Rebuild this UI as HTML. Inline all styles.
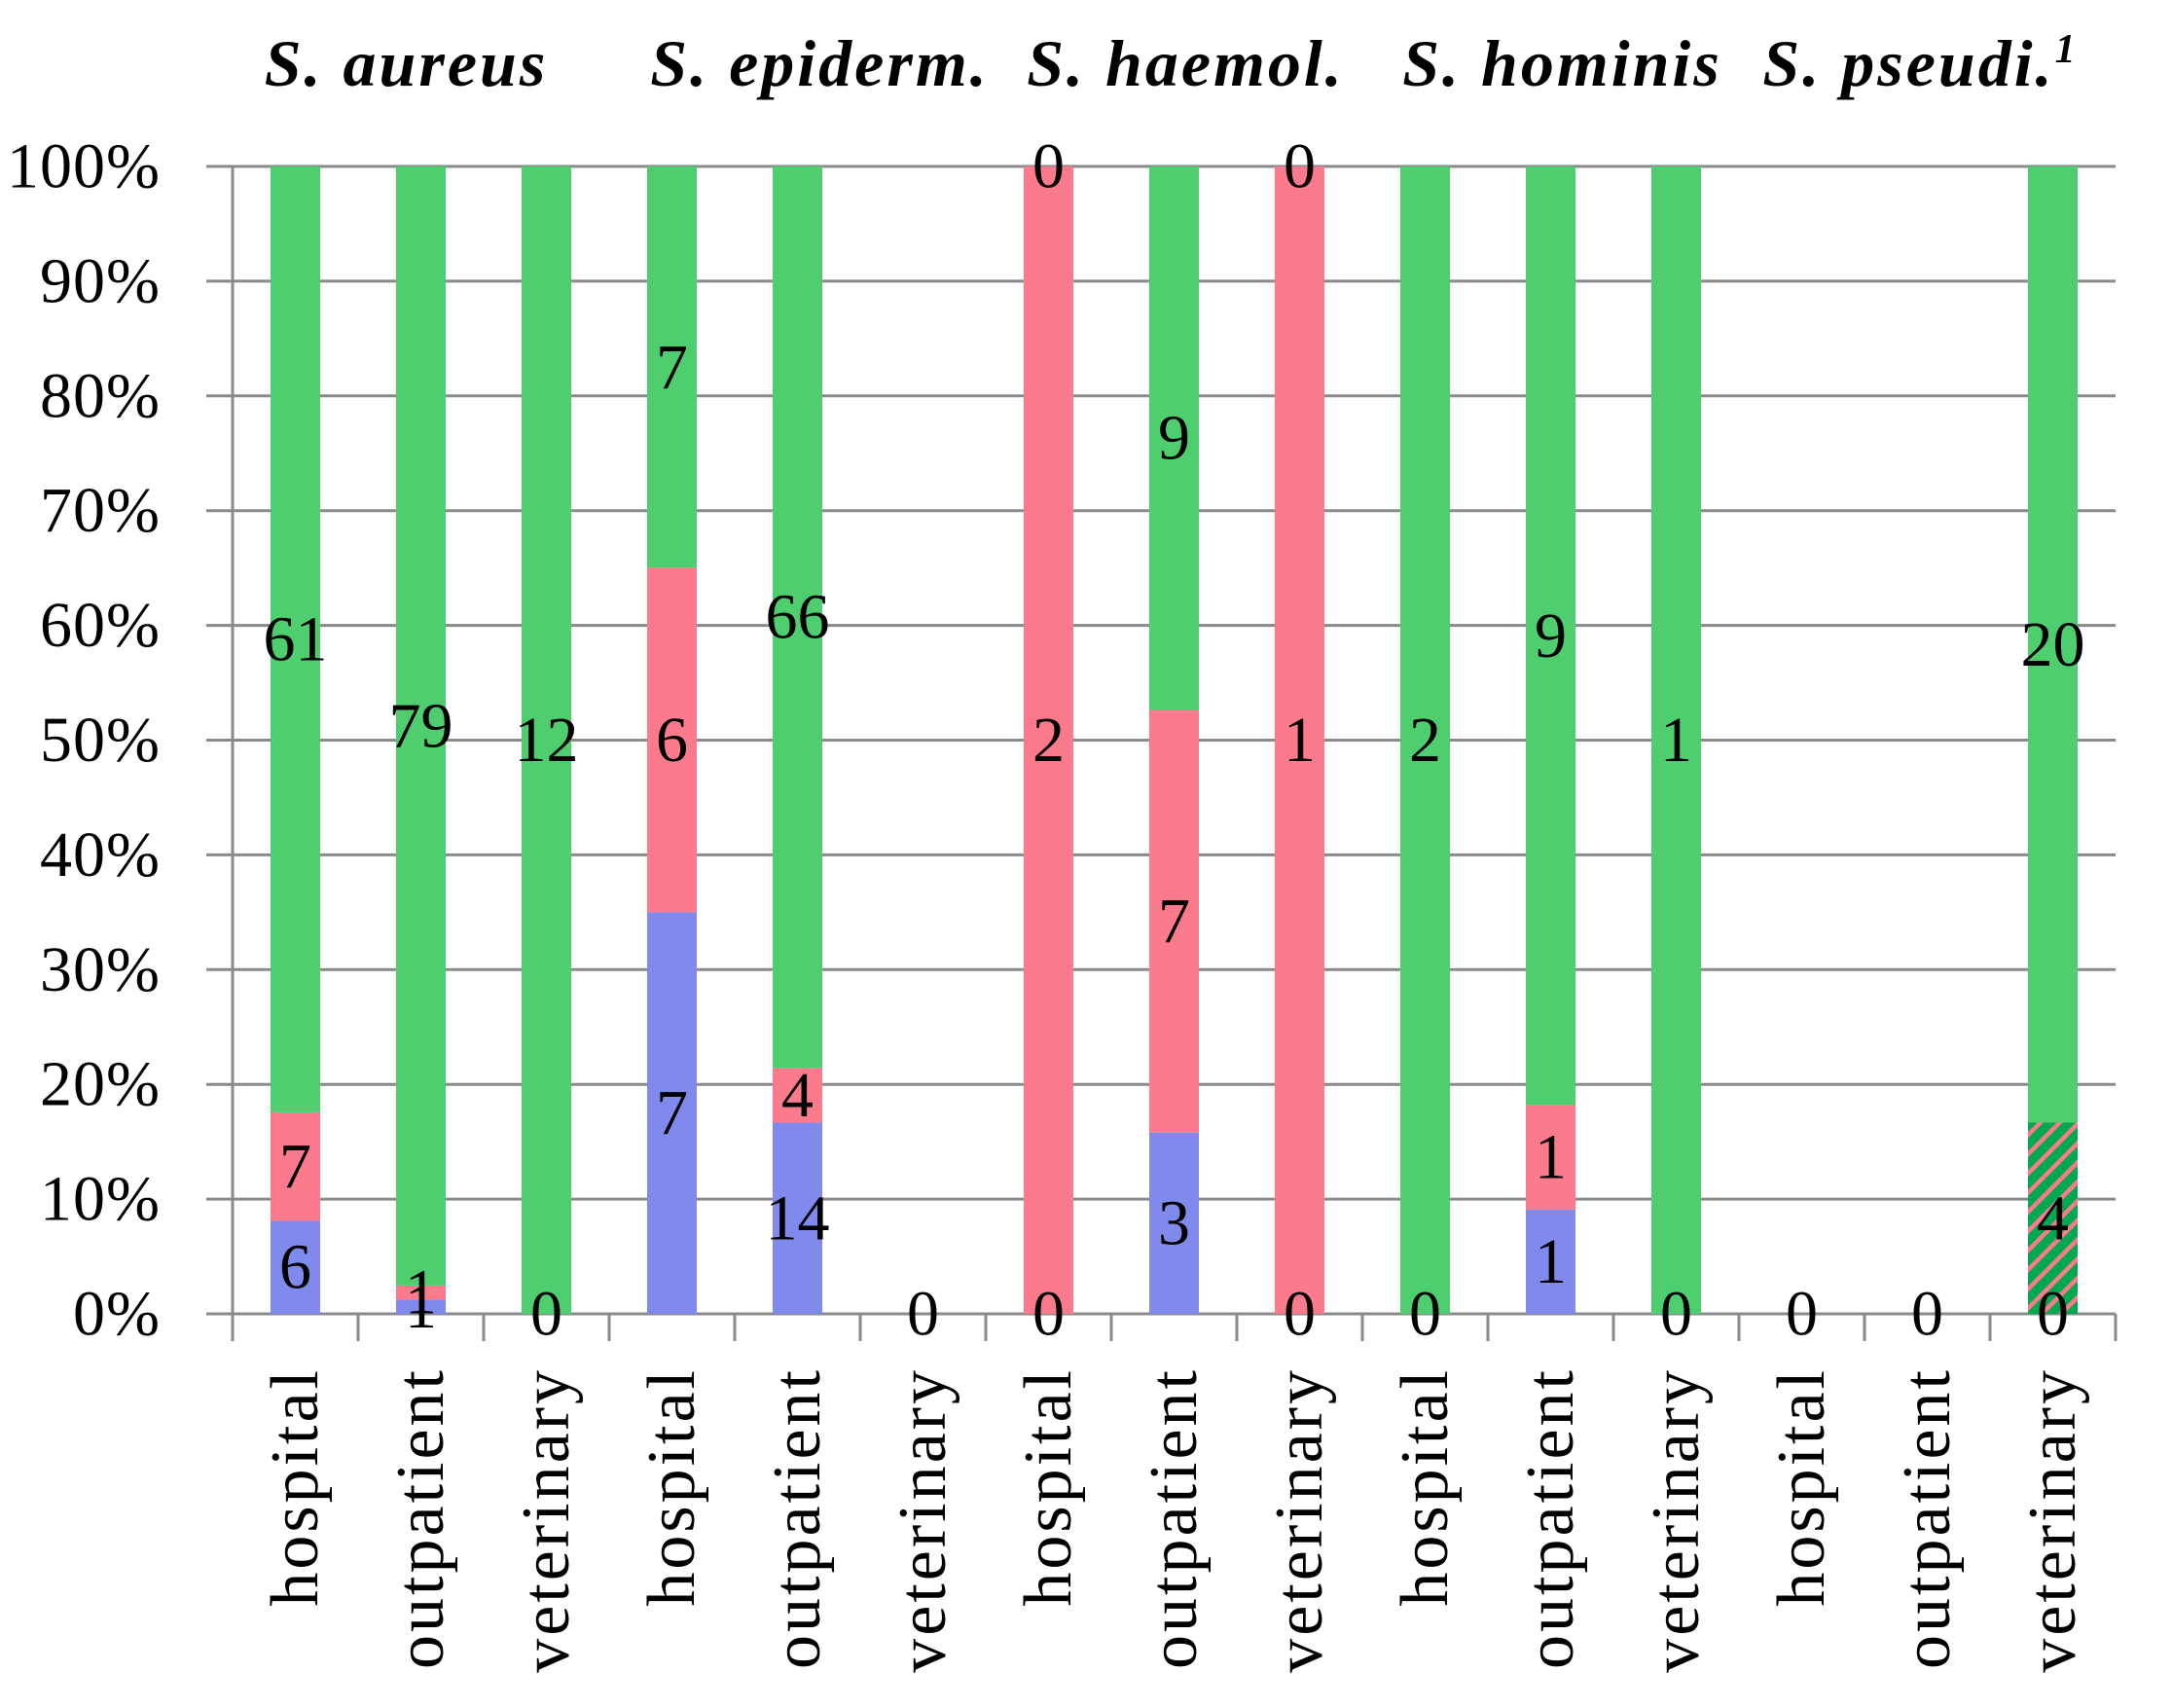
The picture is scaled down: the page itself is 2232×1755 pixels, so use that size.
<!DOCTYPE html>
<html><head><meta charset="utf-8"><style>
html,body{margin:0;padding:0;background:#fff;}
svg{display:block;font-family:"Liberation Serif",serif;}
</style></head><body>
<svg id="chart" width="2232" height="1755" viewBox="0 0 2232 1755" xmlns="http://www.w3.org/2000/svg">
<defs>
<pattern id="hatch" patternUnits="userSpaceOnUse" width="14" height="14" patternTransform="rotate(45)">
<rect width="14" height="14" fill="#00A84F"/><rect width="4.5" height="14" fill="#FB7A8C"/>
</pattern>
</defs>
</svg>
<script>
const categories = ["hospital","outpatient","veterinary","hospital","outpatient","veterinary","hospital","outpatient","veterinary","hospital","outpatient","veterinary","hospital","outpatient","veterinary"];
const groups = ["S. aureus","S. epiderm.","S. haemol.","S. hominis","S. pseudi."];
const blueVals  = [6,1,0,7,14,0,0,3,0,0,1,0,0,0,0];
const hatchVals = [null,null,null,null,null,null,null,null,null,null,null,null,null,null,4];
const redVals   = [7,1,null,6,4,null,2,7,1,null,1,null,null,null,null];
const greenVals = [61,79,12,7,66,null,0,9,0,2,9,1,null,null,20];
const yTicks = [0,10,20,30,40,50,60,70,80,90,100];

const svg = document.getElementById('chart');
const NS = 'http://www.w3.org/2000/svg';
const X0 = 239, X1 = 2174, Y0 = 1350, Y100 = 171;
const n = categories.length, bw = (X1 - X0) / n, barW = 51;
const titleShift = [-15, 23, 12, 12, -7];
const xC = i => X0 + bw * (i + 0.5);
const yP = p => Y0 - (Y0 - Y100) * p / 100;
function mk(tag, attrs, parent) {
  const e = document.createElementNS(NS, tag);
  for (const k in attrs) e.setAttribute(k, attrs[k]);
  (parent || svg).appendChild(e);
  return e;
}
yTicks.forEach(t => {
  const l = mk('line', {x1: 212, x2: X1, y1: yP(t), y2: yP(t), stroke: '#8a8a8a', 'stroke-width': 3});
  
  
  const tx = mk('text', {x: 165, y: yP(t), 'font-size': 66, 'text-anchor': 'end', 'dominant-baseline': 'central', fill: '#000', 'letter-spacing': 1});
  tx.textContent = t + '%';
  
  
});
const ya = mk('line', {x1: X0, x2: X0, y1: Y100, y2: Y0, stroke: '#8a8a8a', 'stroke-width': 3});


for (let i = 0; i <= n; i++) {
  const x = X0 + bw * i;
  const tk = mk('line', {x1: x, x2: x, y1: Y0, y2: Y0 + 28, stroke: '#8a8a8a', 'stroke-width': 3});
  
  
}
const series = [
  {vals: blueVals, fill: '#8089EC', name: 'blue'},
  {vals: hatchVals, fill: 'url(#hatch)', name: 'hatched'},
  {vals: redVals, fill: '#FB7A8C', name: 'red'},
  {vals: greenVals, fill: '#4ECE6E', name: 'green'}
];
const labels = [];
for (let i = 0; i < n; i++) {
  let total = 0;
  series.forEach(s => { if (s.vals[i] != null) total += s.vals[i]; });
  let cum = 0;
  series.forEach(s => {
    const v = s.vals[i];
    if (v == null) return;
    const p0 = total ? cum / total * 100 : 0;
    const p1 = total ? (cum + v) / total * 100 : 0;
    cum += v;
    if (v > 0) {
      const r = mk('rect', {x: xC(i) - barW / 2, y: yP(p1), width: barW, height: yP(p0) - yP(p1), fill: s.fill});
      
      
    }
    labels.push({x: xC(i), y: (yP(p0) + yP(p1)) / 2, t: v});
  });
}
labels.forEach(l => {
  const t = mk('text', {x: l.x, y: l.y, 'font-size': 66, 'text-anchor': 'middle', 'dominant-baseline': 'central', fill: '#000'});
  t.textContent = l.t;
  
  
});
categories.forEach((c, i) => {
  const t = mk('text', {x: 0, y: 0, 'font-size': 70, 'text-anchor': 'end', 'dominant-baseline': 'central', fill: '#000', 'letter-spacing': 3,
    transform: 'translate(' + xC(i) + ',1405) rotate(-90)'});
  t.textContent = c;
  
  
});
groups.forEach((g, k) => {
  const t = mk('text', {x: X0 + bw * (3 * k + 1.5) + titleShift[k], y: 88, 'font-size': 68, 'font-weight': 'bold', 'font-style': 'italic', 'text-anchor': 'middle', fill: '#000', 'letter-spacing': 3});
  t.textContent = g;
  if (k === 4) {
    const s = mk('tspan', {dy: -24, 'font-size': 42}, t);
    s.textContent = '1';
  }
  
  
});
</script>
</body></html>
